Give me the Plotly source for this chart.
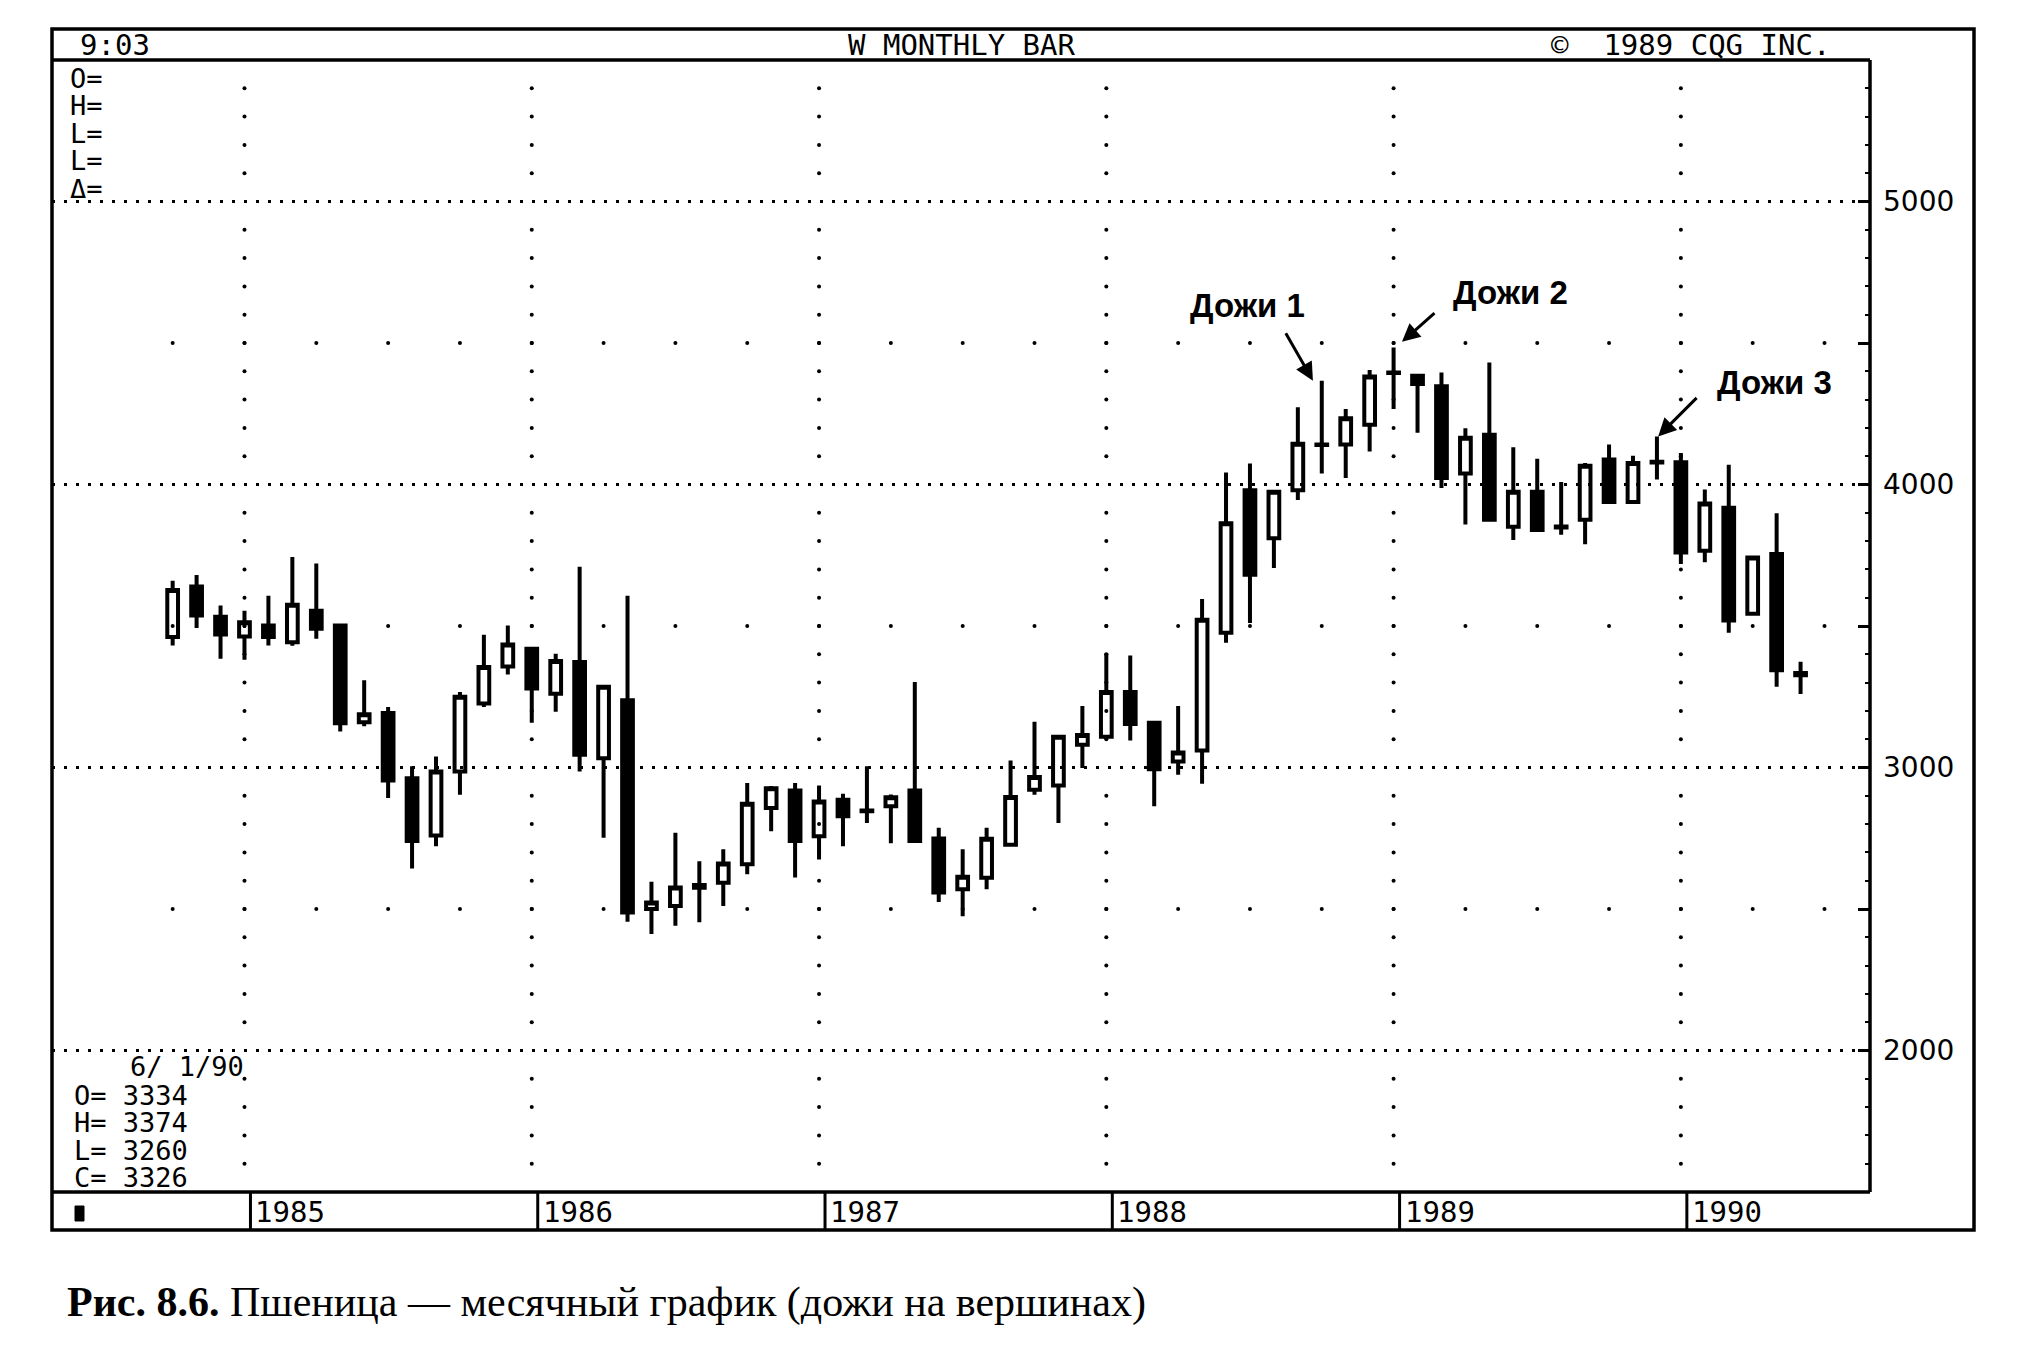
import plotly.graph_objects as go

# ---------------- data (monthly wheat) ----------------
months = [
    "1984-10", "1984-11", "1984-12",
    "1985-01", "1985-02", "1985-03", "1985-04", "1985-05", "1985-06",
    "1985-07", "1985-08", "1985-09", "1985-10", "1985-11", "1985-12",
    "1986-01", "1986-02", "1986-03", "1986-04", "1986-05", "1986-06",
    "1986-07", "1986-08", "1986-09", "1986-10", "1986-11", "1986-12",
    "1987-01", "1987-02", "1987-03", "1987-04", "1987-05", "1987-06",
    "1987-07", "1987-08", "1987-09", "1987-10", "1987-11", "1987-12",
    "1988-01", "1988-02", "1988-03", "1988-04", "1988-05", "1988-06",
    "1988-07", "1988-08", "1988-09", "1988-10", "1988-11", "1988-12",
    "1989-01", "1989-02", "1989-03", "1989-04", "1989-05", "1989-06",
    "1989-07", "1989-08", "1989-09", "1989-10", "1989-11", "1989-12",
    "1990-01", "1990-02", "1990-03", "1990-04", "1990-05", "1990-06",
]
opens = [
    3461, 3640, 3533,
    3463, 3502, 3443, 3554, 3502, 3160, 3193, 2962, 2760, 2986, 3226, 3357,
    3420, 3261, 3373, 3033, 3238, 2500, 2511, 2585, 2593, 2658, 2857, 2919,
    2757, 2886, 2848, 2863, 2919, 2749, 2570, 2610, 2727, 2921, 2936, 3080,
    3109, 3267, 3158, 3021, 3060, 3476, 3980, 3810, 3980, 4141, 4141, 4211,
    4396, 4384, 4347, 4039, 4176, 3851, 3974, 3852, 3875, 4088, 3938, 4080,
    4079, 3766, 3918, 3543, 3754, 3334,
]
highs = [
    3660, 3680, 3572,
    3554, 3607, 3744, 3721, 3505, 3308, 3214, 3004, 3039, 3267, 3469, 3502,
    3425, 3402, 3709, 3290, 3607, 2596, 2769, 2669, 2711, 2945, 2935, 2945,
    2936, 2907, 3004, 2905, 3302, 2787, 2711, 2787, 3025, 3162, 3115, 3217,
    3404, 3396, 3162, 3217, 3595, 4042, 4074, 3980, 4273, 4367, 4267, 4405,
    4484, 4390, 4396, 4199, 4431, 4132, 4091, 4009, 4076, 4141, 4102, 4170,
    4111, 3982, 4070, 3748, 3898, 3374,
]
lows = [
    3431, 3493, 3384,
    3381, 3431, 3430, 3455, 3127, 3146, 2892, 2643, 2722, 2904, 3214, 3329,
    3158, 3197, 2986, 2752, 2455, 2412, 2441, 2453, 2511, 2623, 2775, 2611,
    2675, 2722, 2804, 2732, 2734, 2525, 2474, 2570, 2720, 2904, 2804, 2998,
    3100, 3095, 2863, 2974, 2943, 3441, 3511, 3705, 3945, 4039, 4023, 4117,
    4267, 4183, 3988, 3859, 3870, 3804, 3835, 3822, 3789, 3935, 3935, 4018,
    3719, 3725, 3476, 3538, 3285, 3260,
]
closes = [
    3627, 3537, 3470,
    3513, 3461, 3575, 3490, 3156, 3188, 2954, 2740, 2986, 3250, 3355, 3435,
    3279, 3376, 3045, 3285, 2488, 2523, 2576, 2575, 2661, 2872, 2927, 2740,
    2880, 2828, 2845, 2895, 2740, 2558, 2614, 2748, 2896, 2966, 3109, 3115,
    3267, 3154, 2994, 3053, 3522, 3863, 3681, 3974, 4144, 4140, 4234, 4382,
    4394, 4355, 4023, 4165, 3875, 3974, 3839, 3848, 4066, 3938, 4076, 4078,
    3760, 3933, 3519, 3742, 3344, 3326,
]

year_labels = ["1985", "1986", "1987", "1988", "1989", "1990"]
price_labels = [2000, 3000, 4000, 5000]
half_ticks = [2500, 3500, 4500]

doji_names = ["Дожи 1", "Дожи 2", "Дожи 3"]
doji_months = ["1988-10", "1989-01", "1989-12"]

header_left = "9:03"
header_mid = "W MONTHLY BAR"
header_right = "©  1989 CQG INC."
info_top = ["O=", "H=", "L=", "L=", "Δ="]
info_date = "6/ 1/90"
info_bottom = ["O= 3334", "H= 3374", "L= 3260", "C= 3326"]
caption = "<b>Рис. 8.6.</b> Пшеница — месячный график (дожи на вершинах)"


def month_index(s):
    y, m = s.split("-")
    return (int(y) - 1985) * 12 + int(m) - 1


x = [month_index(m) for m in months]

# ---------------- page geometry (pixels) ----------------
W, H = 2036, 1349
PL, PR, PT, PB = 52, 1870, 60, 1192     # plot area
OUT_R, OUT_T, OUT_B = 1974, 29, 1230     # outer frame


def px(v):
    return (v - PL) / (PR - PL)


def py(v):
    return (PB - v) / (PB - PT)


MONO = "DejaVu Sans Mono"
BLK = "black"

fig = go.Figure()

# grid dots: year columns every 100 and quarter dots on half-thousand rows
gx, gy = [], []
for yl in year_labels:
    xi = month_index(yl + "-01")
    for v in range(1600, 5500, 100):
        if v % 1000:
            gx.append(xi)
            gy.append(v)
for v in half_ticks:
    for xi in range(-3, 67, 3):
        gx.append(xi)
        gy.append(v)
fig.add_trace(go.Scatter(x=gx, y=gy, mode="markers",
                         marker=dict(size=4, color=BLK, symbol="circle"),
                         hoverinfo="skip", showlegend=False))

fig.add_trace(go.Candlestick(
    x=x, open=opens, high=highs, low=lows, close=closes,
    increasing=dict(line=dict(color=BLK, width=4), fillcolor="rgba(0,0,0,0)"),
    decreasing=dict(line=dict(color=BLK, width=4), fillcolor=BLK),
    whiskerwidth=0, showlegend=False, hoverinfo="skip"))

shapes = []
# dotted horizontal lines at thousands
for v in price_labels:
    shapes.append(dict(type="line", xref="paper", yref="y", x0=0, x1=1, y0=v, y1=v,
                       line=dict(color=BLK, width=3, dash="3px,9px"), layer="below"))
# outer frame
shapes.append(dict(type="rect", xref="paper", yref="paper",
                   x0=px(PL), x1=px(OUT_R), y0=py(OUT_B), y1=py(OUT_T),
                   line=dict(color=BLK, width=3.5)))
# header bottom / plot top
shapes.append(dict(type="line", xref="paper", yref="paper",
                   x0=px(PL), x1=px(PR), y0=py(PT), y1=py(PT), line=dict(color=BLK, width=3.5)))
# plot bottom
shapes.append(dict(type="line", xref="paper", yref="paper",
                   x0=px(PL), x1=px(PR), y0=py(PB), y1=py(PB), line=dict(color=BLK, width=3.5)))
# plot right border
shapes.append(dict(type="line", xref="paper", yref="paper",
                   x0=1, x1=1, y0=py(PB), y1=py(PT), line=dict(color=BLK, width=3.5)))
# year dividers in the label band
for yl in year_labels:
    xi = month_index(yl + "-01") + 0.25
    shapes.append(dict(type="line", xref="x", yref="paper", x0=xi, x1=xi,
                       y0=py(OUT_B), y1=py(PB), line=dict(color=BLK, width=3)))
# small square in the first cell
shapes.append(dict(type="rect", xref="paper", yref="paper",
                   x0=px(75), x1=px(84), y0=py(1221), y1=py(1206),
                   fillcolor=BLK, line=dict(color=BLK, width=1)))

ann = []


def text(t, xp, yp, size=29, family=MONO, xanchor="left"):
    ann.append(dict(text=t, xref="paper", yref="paper", x=px(xp), y=py(yp),
                    xanchor=xanchor, yanchor="middle", showarrow=False,
                    font=dict(family=family, size=size, color=BLK)))


text(header_left, 78, 45)
text(header_mid, 962, 45, xanchor="center")
text(header_right, 1549, 45)
for i, t in enumerate(info_top):
    text(t, 68, 78 + i * 27.5, size=27)
text(info_date, 128, 1066, size=27)
for i, t in enumerate(info_bottom):
    text(t, 72, 1095 + i * 27.5, size=27)

for yl in year_labels:
    xi = month_index(yl + "-01") + 0.25
    ann.append(dict(text=yl, xref="x", yref="paper", x=xi, y=py(1212),
                    xanchor="left", yanchor="middle", xshift=3, showarrow=False,
                    font=dict(family=MONO, size=29, color=BLK)))

# doji labels and arrows
label_pos = [(1247, 305), (1510, 292), (1774, 382)]
arrow_geo = [(-0.37, 0, -28, -49), (0.35, 20, 34, -30), (0.05, 0, 40, -40)]
for name, m, (lx, ly), (dx, dy, ax, ay) in zip(doji_names, doji_months, label_pos, arrow_geo):
    i = months.index(m)
    text("<b>" + name + "</b>", lx, ly, size=33, family="Liberation Sans", xanchor="center")
    ann.append(dict(text="", x=x[i] + dx, y=highs[i] + dy, xref="x", yref="y",
                    ax=ax, ay=ay, showarrow=True, arrowhead=2, arrowsize=1.2,
                    arrowwidth=3, arrowcolor=BLK, standoff=0))

# caption
ann.append(dict(text=caption, xref="paper", yref="paper", x=px(65), y=py(1302),
                xanchor="left", yanchor="middle", showarrow=False,
                font=dict(family="Liberation Serif", size=42, color=BLK)))

fig.update_layout(
    width=W, height=H, autosize=False,
    margin=dict(l=PL, r=W - PR, t=PT, b=H - PB, pad=0),
    paper_bgcolor="white", plot_bgcolor="white",
    boxgap=0.36,
    showlegend=False,
    xaxis=dict(range=[-8.04, 67.9], showgrid=False, zeroline=False,
               showticklabels=False, ticks="", showline=False,
               rangeslider=dict(visible=False), fixedrange=True),
    yaxis=dict(range=[1500, 5500], side="right", showgrid=False, zeroline=False,
               tickmode="array",
               tickvals=sorted(price_labels + half_ticks),
               ticktext=[str(v) if v in price_labels else "" for v in sorted(price_labels + half_ticks)],
               ticks="inside", ticklen=12, tickwidth=3, tickcolor=BLK,
               minor=dict(dtick=100, tick0=0, ticks="inside", ticklen=5,
                          tickwidth=2, tickcolor=BLK, showgrid=False),
               tickfont=dict(family="DejaVu Sans", size=28, color=BLK),
               ticklabelstandoff=12, showline=False, fixedrange=True),
    shapes=shapes,
    annotations=ann,
)

fig.write_html("out.html", config={"displayModeBar": False},
               post_script="document.body.style.margin='0px';")
